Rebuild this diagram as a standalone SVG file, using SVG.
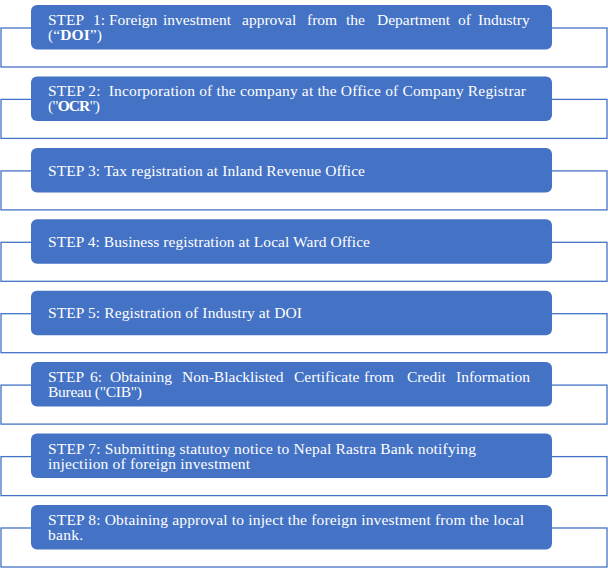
<svg xmlns="http://www.w3.org/2000/svg" width="608" height="572" viewBox="0 0 608 572">
<style>
.br{fill:none;stroke:#4472C4;stroke-width:1.3}
.bx{fill:#4472C4}
.t{fill:#FFFFFF;font-family:"Liberation Serif","Times New Roman",serif;font-size:15.5px;white-space:pre}
.b{font-weight:bold}
</style>
<rect width="608" height="572" fill="#FFFFFF"/>
<g id="connectors">
<rect class="br" x="1" y="28" width="606" height="39"/>
<rect class="br" x="1" y="99.4" width="606" height="39"/>
<rect class="br" x="1" y="170.9" width="606" height="39"/>
<rect class="br" x="1" y="242.3" width="606" height="39"/>
<rect class="br" x="1" y="313.7" width="606" height="39"/>
<rect class="br" x="1" y="385.1" width="606" height="39"/>
<rect class="br" x="1" y="456.6" width="606" height="39"/>
<rect class="br" x="1" y="528" width="606" height="39"/>
</g>
<g id="step1">
<rect class="bx" x="31" y="5" width="521" height="44.5" rx="6"/>
<text class="t" y="25"><tspan x="48">STEP</tspan> <tspan x="93">1:</tspan> <tspan x="109">Foreign</tspan> <tspan x="163">investment</tspan> <tspan x="242">approval</tspan> <tspan x="307">from</tspan> <tspan x="346">the</tspan> <tspan x="377">Department</tspan> <tspan x="458">of</tspan> <tspan x="478">Industry</tspan></text>
<text class="t" x="48" y="40" textLength="54">(“<tspan class="b">DOI</tspan>”)</text>
</g>
<g id="step2">
<rect class="bx" x="31" y="76.4" width="521" height="44.5" rx="6"/>
<text class="t" x="48" y="96.4" textLength="478" xml:space="preserve">STEP 2:  Incorporation of the company at the Office of Company Registrar</text>
<text class="t" x="48" y="111.4" textLength="52">("<tspan class="b">OCR</tspan>")</text>
</g>
<g id="step3">
<rect class="bx" x="31" y="147.9" width="521" height="44.5" rx="6"/>
<text class="t" x="48" y="175.5" textLength="317">STEP 3: Tax registration at Inland Revenue Office</text>
</g>
<g id="step4">
<rect class="bx" x="31" y="219.3" width="521" height="44.5" rx="6"/>
<text class="t" x="48" y="246.9" textLength="322">STEP 4: Business registration at Local Ward Office</text>
</g>
<g id="step5">
<rect class="bx" x="31" y="290.7" width="521" height="44.5" rx="6"/>
<text class="t" x="48" y="318.3" textLength="254">STEP 5: Registration of Industry at DOI</text>
</g>
<g id="step6">
<rect class="bx" x="31" y="362.1" width="521" height="44.5" rx="6"/>
<text class="t" y="381.5"><tspan x="48">STEP</tspan> <tspan x="90">6:</tspan> <tspan x="110">Obtaining</tspan> <tspan x="182">Non-Blacklisted</tspan> <tspan x="294">Certificate</tspan> <tspan x="364">from</tspan> <tspan x="407">Credit</tspan> <tspan x="456">Information</tspan></text>
<text class="t" x="48" y="396.8" textLength="94">Bureau ("CIB")</text>
</g>
<g id="step7">
<rect class="bx" x="31" y="433.6" width="521" height="44.5" rx="6"/>
<text class="t" x="48" y="453.5" textLength="428">STEP 7: Submitting statutoy notice to Nepal Rastra Bank notifying</text>
<text class="t" x="48" y="468.5" textLength="202">injectiion of foreign investment</text>
</g>
<g id="step8">
<rect class="bx" x="31" y="505" width="521" height="44.5" rx="6"/>
<text class="t" x="48" y="525" textLength="476">STEP 8: Obtaining approval to inject the foreign investment from the local</text>
<text class="t" x="48" y="540" textLength="35">bank.</text>
</g>
</svg>
